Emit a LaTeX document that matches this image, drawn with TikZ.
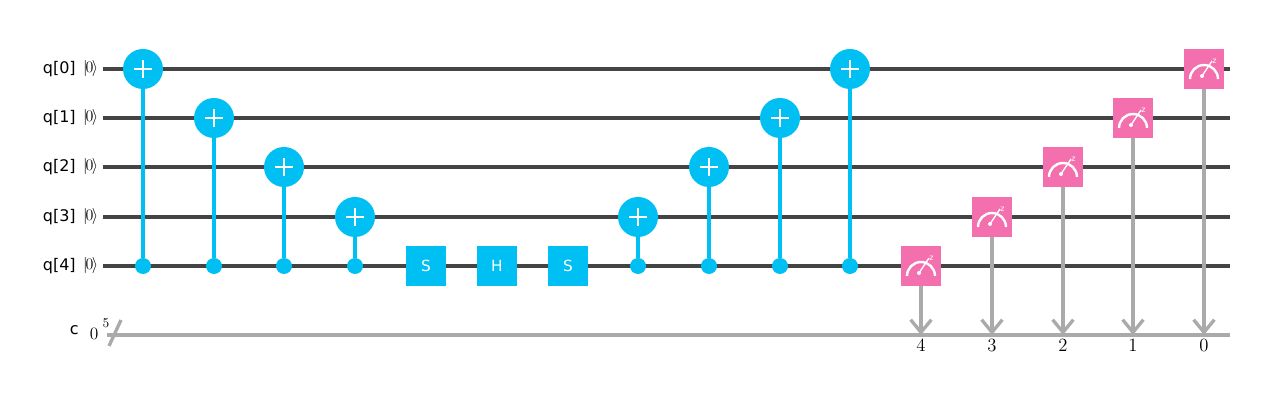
\documentclass[tikz,border=0pt]{standalone}
\usepackage{fontspec}
\setsansfont{DejaVu Sans}
\usetikzlibrary{arrows.meta,backgrounds}
\definecolor{gblue}{HTML}{00BFF2}
\definecolor{gpink}{HTML}{F46FAE}
\definecolor{qwire}{HTML}{444444}
\definecolor{cwire}{HTML}{AAAAAA}
\tikzset{
  qwireline/.style={draw=qwire,line width=2.5pt},
  cwireline/.style={draw=cwire,line width=2.5pt},
  ctlink/.style={draw=gblue,line width=3.2pt},
  measlink/.style={draw=cwire,line width=2.5pt,-{Straight Barb[length=9.5pt,width=15.5pt,line width=2.5pt]}},
  target/.style={circle,fill=gblue,minimum size=30pt,inner sep=0pt,outer sep=0pt,
    path picture={\draw[white,line width=1.5pt]
      ([xshift=-6.8pt]path picture bounding box.center)--([xshift=6.8pt]path picture bounding box.center)
      ([yshift=-6.8pt]path picture bounding box.center)--([yshift=6.8pt]path picture bounding box.center);}},
  control/.style={circle,fill=gblue,minimum size=12pt,inner sep=0pt,outer sep=0pt},
  gatebox/.style={rectangle,fill=gblue,minimum size=30pt,inner sep=0pt,outer sep=0pt,text=white,font=\sffamily\fontsize{11.5}{13}\selectfont},
  measbox/.style={rectangle,fill=gpink,minimum size=30pt,inner sep=0pt,outer sep=0pt},
  qlabel/.style={font=\sffamily\fontsize{12}{14}\selectfont,anchor=east,inner sep=0pt},
  ketlabel/.style={font=\fontsize{11.5}{14}\selectfont,inner sep=0pt},
  numlabel/.style={font=\fontsize{14}{16}\selectfont,anchor=north,inner sep=0pt},
}
\newcommand{\ketz}{$|\mkern-2mu 0\mkern-2mu\rangle$}
\newcommand{\meticon}[2]{%
  \begin{scope}[shift={(#1,#2)}]
    \draw[white,line width=1.8pt] (-14,10) arc[start angle=180,end angle=0,radius=10.5pt];
    \fill[white] (-2,7) circle[radius=1.5pt];
    \draw[white,line width=1pt] (-2,7) -- (8,-8);
    \node[text=white,inner sep=0pt,font=\sffamily\fontsize{6}{6}\selectfont] at (10.5,-7.5) {z};
  \end{scope}}
\begin{document}
\begin{tikzpicture}[x=0.75pt,y=-0.75pt]
\useasboundingbox (0,0) rectangle (1272,420);
% labels
\node[qlabel] (l0) at (76,69) {q[0]};
\node[qlabel] (l1) at (76,118) {q[1]};
\node[qlabel] (l2) at (76,167) {q[2]};
\node[qlabel] (l3) at (76,217) {q[3]};
\node[qlabel] (l4) at (76,266) {q[4]};
\node[qlabel] (lc) at (79,330) {c};
\node[ketlabel] (k0) at (90.5,69) {\ketz};
\node[ketlabel] (k1) at (90.5,118) {\ketz};
\node[ketlabel] (k2) at (90.5,167) {\ketz};
\node[ketlabel] (k3) at (90.5,217) {\ketz};
\node[ketlabel] (k4) at (90.5,266) {\ketz};
\node[font=\fontsize{13}{15}\selectfont,inner sep=0pt] (c0) at (94,334) {0};
\node[font=\fontsize{10}{12}\selectfont,inner sep=0pt] (c5) at (106,323) {5};
% wire ends
\foreach \n/\y in {0/69,1/118,2/167,3/217,4/266}{
  \coordinate (wl\n) at (103,\y);
  \coordinate (wr\n) at (1230,\y);
}
\coordinate (cl) at (107,335);
\coordinate (cr) at (1230,335);
\coordinate (sl1) at (109,346);
\coordinate (sl2) at (121,320);
\foreach \n/\x in {4/921,3/992,2/1063,1/1133,0/1204}{
  \coordinate (b\n) at (\x,335);
}
% gates
\node[target] (t0) at (143,69) {};
\node[target] (t1) at (214,118) {};
\node[target] (t2) at (284,167) {};
\node[target] (t3) at (355,217) {};
\node[control] (d0) at (143,266) {};
\node[control] (d1) at (214,266) {};
\node[control] (d2) at (284,266) {};
\node[control] (d3) at (355,266) {};
\node[gatebox] (s1) at (426,266) {S};
\node[gatebox] (h1) at (497,266) {H};
\node[gatebox] (s2) at (568,266) {S};
\node[target] (t4) at (638,217) {};
\node[target] (t5) at (709,167) {};
\node[target] (t6) at (780,118) {};
\node[target] (t7) at (850,69) {};
\node[control] (d4) at (638,266) {};
\node[control] (d5) at (709,266) {};
\node[control] (d6) at (780,266) {};
\node[control] (d7) at (850,266) {};
\node[measbox] (m4) at (921,266) {};
\node[measbox] (m3) at (992,217) {};
\node[measbox] (m2) at (1063,167) {};
\node[measbox] (m1) at (1133,118) {};
\node[measbox] (m0) at (1204,69) {};
\meticon{921}{266}
\meticon{992}{217}
\meticon{1063}{167}
\meticon{1133}{118}
\meticon{1204}{69}
% classical bit labels
\node[numlabel] (n4) at (921,339) {4};
\node[numlabel] (n3) at (992,339) {3};
\node[numlabel] (n2) at (1063,339) {2};
\node[numlabel] (n1) at (1133,339) {1};
\node[numlabel] (n0) at (1204,339) {0};
\begin{scope}[on background layer]
  \foreach \n in {0,...,4}{\draw[qwireline] (wl\n) -- (wr\n);}
  \draw[cwireline] (cl) -- (cr);
  \draw[cwireline] (sl1) -- (sl2);
  \foreach \n in {0,...,7}{\draw[ctlink] (d\n) -- (t\n);}
  \foreach \n in {0,...,4}{\draw[measlink] (m\n) -- (b\n);}
\end{scope}
\end{tikzpicture}
\end{document}
